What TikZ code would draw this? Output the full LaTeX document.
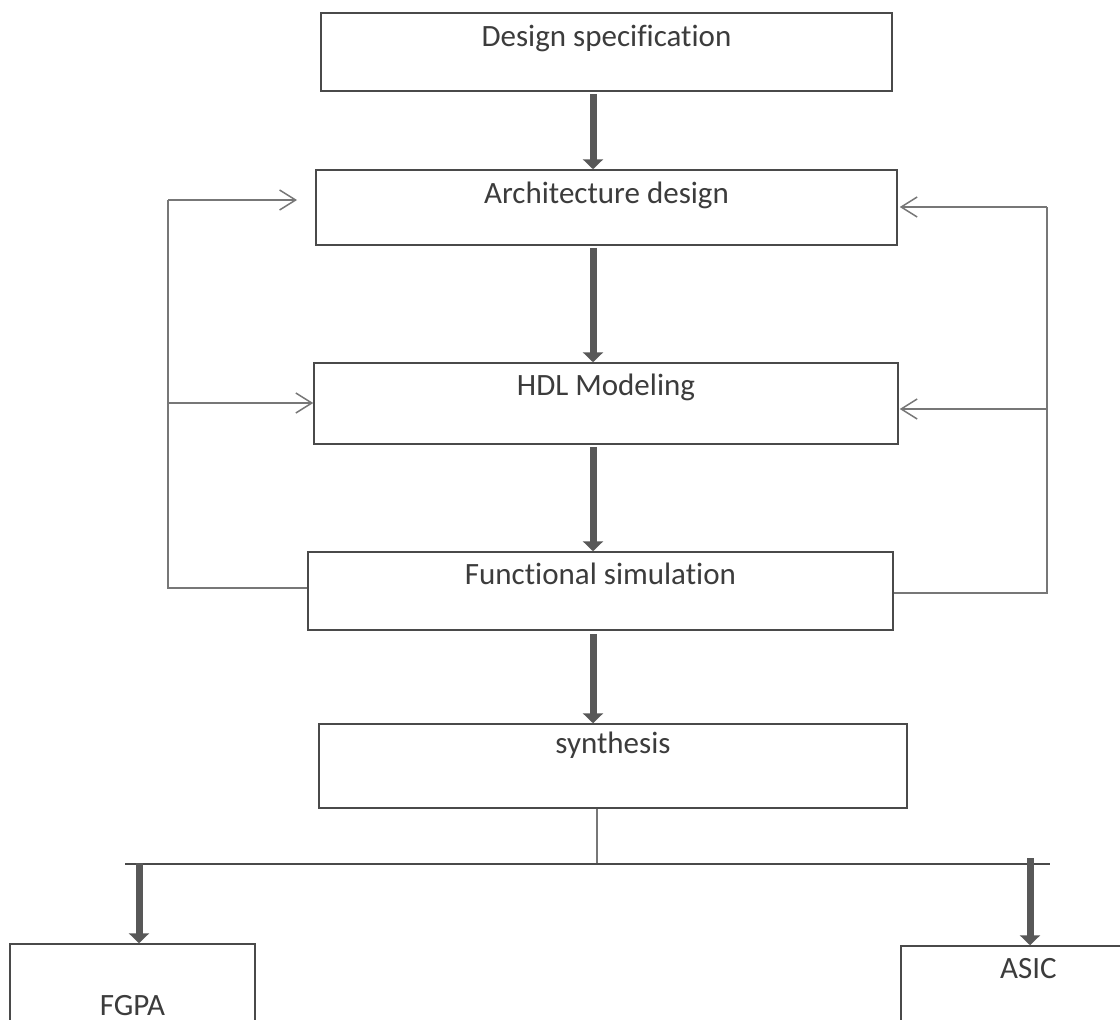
\documentclass[tikz,border=0pt]{standalone}
\usepackage{fontspec}
\setmainfont{Carlito}[Ligatures=NoCommon]
\usetikzlibrary{arrows.meta}
\definecolor{boxline}{HTML}{4A4A4A}
\definecolor{txtc}{HTML}{3C3C3C}
\definecolor{thinc}{HTML}{777777}
\definecolor{thickc}{HTML}{585858}
\begin{document}
\begin{tikzpicture}[x=1pt,y=-1pt,
  box/.style={draw=boxline, line width=1.5pt, inner sep=0pt, text=txtc,
    font=\fontsize{31}{37}\selectfont, anchor=base},
  flow/.style={draw=thickc, line width=7pt, -{Triangle[width=20pt,length=10pt]}},
  fb/.style={draw=thinc, line width=1.5pt},
  fbarrow/.style={fb, -{Straight Barb[length=16pt,width=20pt,line width=1.5pt]}}]
\fill[white] (0,0) rectangle (1120,1020);
\clip (0,0) rectangle (1120,1020);
% boxes
\node[box, minimum width=571pt, text height=33pt, text depth=45pt] (spec) at (606.5,46) {Design specification};
\node[box, minimum width=581pt, text height=33pt, text depth=42pt] (arch) at (606.5,203) {Architecture design};
\node[box, minimum width=584pt, text height=32pt, text depth=49pt] (hdl) at (606,395) {HDL Modeling};
\node[box, minimum width=585pt, text height=32pt, text depth=46pt] (func) at (600.5,584) {Functional simulation};
\node[box, minimum width=588pt, text height=29pt, text depth=55pt] (synth) at (613,753) {synthesis};
\node[box, minimum width=245pt, text height=71pt, text depth=6.5pt] (fgpa) at (132.5,1015) {FGPA};
\node[box, minimum width=220.5pt, text height=32pt, text depth=43.5pt] (asic) at (1011.25,978) {\hspace*{34.5pt}ASIC};
% main flow
\coordinate (ax) at (593,0);
\draw[flow] ([yshift=-2pt]spec.south -| ax) -- (arch.north -| ax);
\draw[flow] ([yshift=-2pt]arch.south -| ax) -- (hdl.north -| ax);
\draw[flow] ([yshift=-2pt]hdl.south -| ax) -- (func.north -| ax);
\draw[flow] ([yshift=-3pt]func.south -| ax) -- (synth.north -| ax);
% left feedback
\coordinate (L1) at (168,200);
\coordinate (L1e) at (297,200);
\coordinate (L2) at (168,403);
\coordinate (L3) at (168,588);
\draw[fb] (func.west |- L3) -- (L3) -- (L1);
\draw[fbarrow] (L1) -- (L1e);
\draw[fbarrow] (L2) -- (hdl.west |- L2);
% right feedback
\coordinate (R1) at (1047,207);
\coordinate (R2) at (1047,409);
\coordinate (R3) at (1047,593);
\draw[fb] (func.east |- R3) -- (R3) -- (R1);
\draw[fbarrow] (R1) -- ([xshift=2pt]arch.east |- R1);
\draw[fbarrow] (R2) -- ([xshift=1pt]hdl.east |- R2);
% synthesis split
\coordinate (split) at (597,864);
\coordinate (bl) at (125,864);
\coordinate (br) at (1050,864);
\coordinate (fa) at (139,863);
\coordinate (sa) at (1030,858);
\draw[fb, line width=1.2pt] (synth.south -| split) -- (split);
\draw[fb, draw=boxline] (bl) -- (br);
\draw[flow] (fa) -- (fgpa.north -| fa);
\draw[flow] (sa) -- (asic.north -| sa);
\end{tikzpicture}
\end{document}
